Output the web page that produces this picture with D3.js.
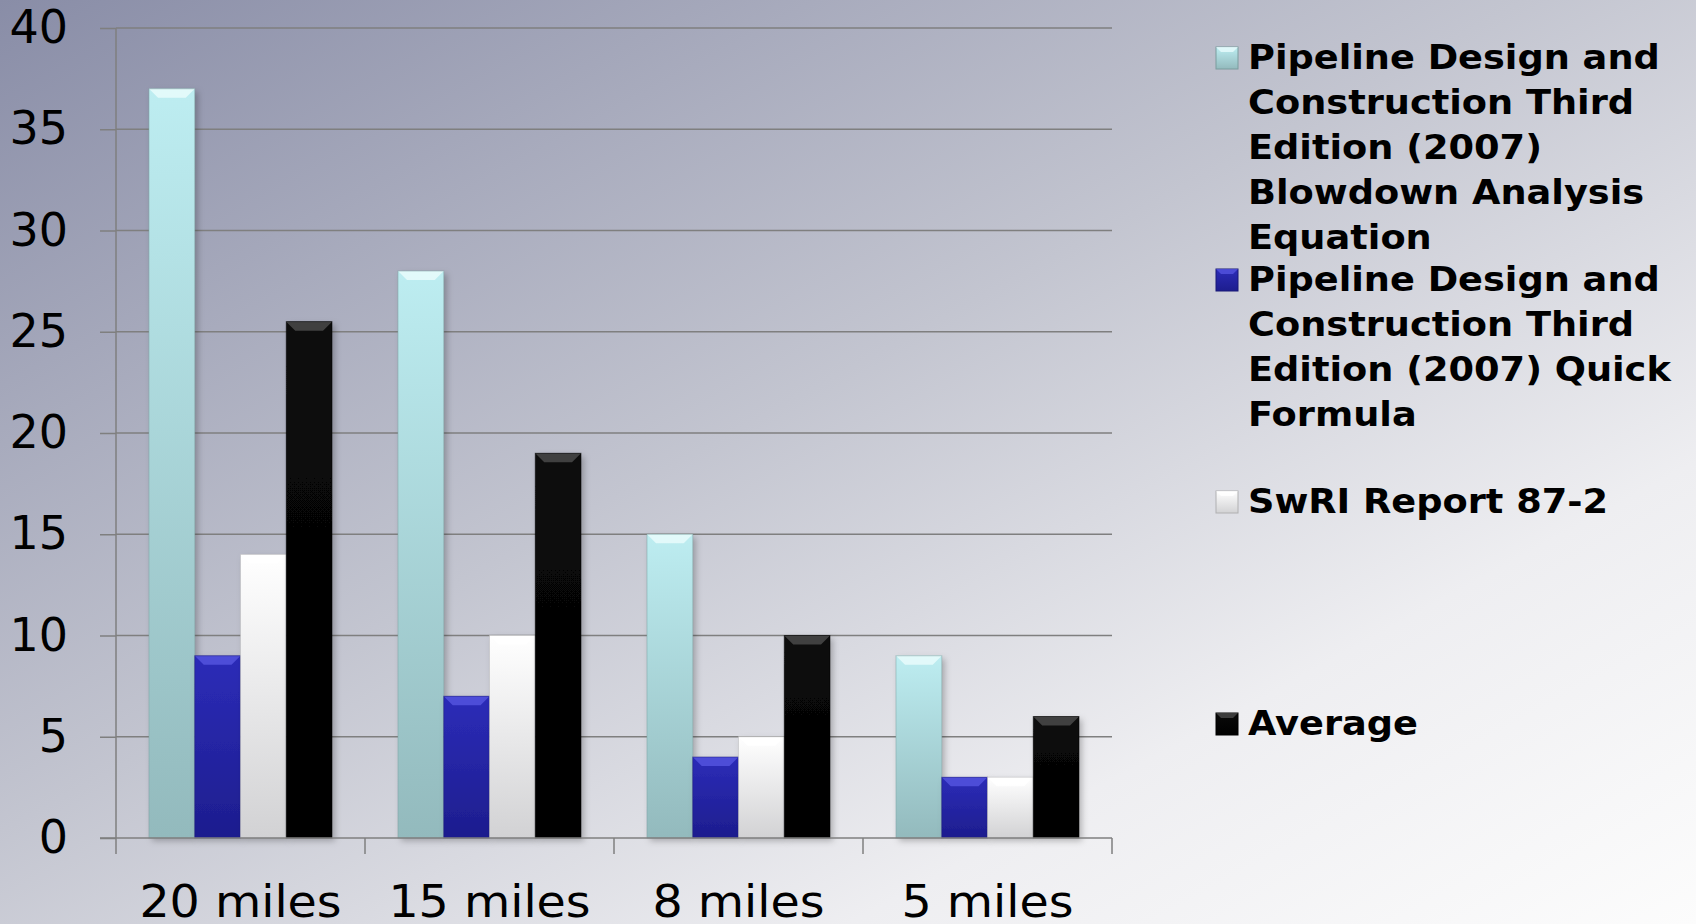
<!DOCTYPE html>
<html>
<head>
<meta charset="utf-8">
<script src="https://cdn.jsdelivr.net/npm/d3@7"></script>
<style>
  html, body { margin: 0; padding: 0; }
  body { width: 1696px; height: 924px; overflow: hidden; }
  svg { display: block; }
</style>
</head>
<body>
<div id="chart"></div>
<script>
// chart data
const categories = ['20 miles', '15 miles', '8 miles', '5 miles'];
const seriesNames = [
  'Pipeline Design and Construction Third Edition (2007) Blowdown Analysis Equation',
  'Pipeline Design and Construction Third Edition (2007) Quick Formula',
  'SwRI Report 87-2',
  'Average'
];
const blowdownEq = [37, 28, 15, 9];
const quickFormula = [9, 7, 4, 3];
const swriReport = [14, 10, 5, 3];
const average = [25.5, 19, 10, 6];
const yTicks = [0, 5, 10, 15, 20, 25, 30, 35, 40];

const seriesValues = [blowdownEq, quickFormula, swriReport, average];
// top colour, bottom colour, bevel highlight
const seriesColors = [
  ['#bdedf1', '#93babd', '#e9fbfc'],
  ['#2c2cb8', '#1d1d8e', '#5454de'],
  ['#ffffff', '#d2d2d4', '#ffffff'],
  ['#0a0a0a', '#000000', '#4a4a4a']
];

const W = 1696, H = 924;
const margin = { top: 28, right: 584, bottom: 86, left: 116 };
const width = W - margin.left - margin.right;
const height = H - margin.top - margin.bottom;
const stretch = 1.08; // the original text is a little wider than DejaVu

const svg = d3.select('#chart')
  .append('svg')
  .attr('width', W)
  .attr('height', H);

const defs = svg.append('defs');

// background gradient
const bg = defs.append('linearGradient')
  .attr('id', 'bg')
  .attr('x1', '0%').attr('y1', '0%')
  .attr('x2', '100%').attr('y2', '100%');
bg.append('stop').attr('offset', '0%').attr('stop-color', '#898da7');
bg.append('stop').attr('offset', '45%').attr('stop-color', '#c3c5d0');
bg.append('stop').attr('offset', '75%').attr('stop-color', '#eeeef1');
bg.append('stop').attr('offset', '100%').attr('stop-color', '#fcfcfc');

svg.append('rect')
  .attr('width', W)
  .attr('height', H)
  .attr('fill', 'url(#bg)');

seriesColors.forEach((c, i) => {
  const g = defs.append('linearGradient')
    .attr('id', 'bar' + i)
    .attr('x1', 0).attr('y1', 0)
    .attr('x2', 0).attr('y2', 1);
  g.append('stop').attr('offset', '0%').attr('stop-color', c[0]);
  g.append('stop').attr('offset', '100%').attr('stop-color', c[1]);
});

const shadow = defs.append('filter')
  .attr('id', 'shadow')
  .attr('x', '-20%').attr('y', '-10%')
  .attr('width', '150%').attr('height', '130%');
shadow.append('feDropShadow')
  .attr('dx', 3).attr('dy', 3)
  .attr('stdDeviation', 3)
  .attr('flood-color', '#000')
  .attr('flood-opacity', 0.25);

const plot = svg.append('g')
  .attr('transform', `translate(${margin.left},${margin.top})`);

const x0 = d3.scaleBand()
  .domain(categories)
  .range([0, width])
  .paddingInner(0.265)
  .paddingOuter(0.1325);
const x1 = d3.scaleBand()
  .domain(d3.range(seriesNames.length))
  .range([0, x0.bandwidth()]);
const y = d3.scaleLinear()
  .domain([0, 40])
  .range([height, 0]);

// gridlines + y axis
const yAxis = plot.append('g')
  .call(d3.axisLeft(y).tickValues(yTicks).tickSize(16).tickPadding(32));
yAxis.select('.domain').attr('stroke', '#7f7f7f').attr('stroke-width', 1.5)
  .attr('d', `M0,0V${height}`);
yAxis.selectAll('.tick line').attr('stroke', '#7f7f7f').attr('stroke-width', 1.5);
yAxis.selectAll('.tick text')
  .attr('fill', '#000')
  .style('font-family', '"DejaVu Sans", Verdana, sans-serif')
  .style('font-size', '46px');

plot.append('g')
  .selectAll('line')
  .data(yTicks.filter(t => t > 0))
  .enter()
  .append('line')
  .attr('x1', 0)
  .attr('x2', width)
  .attr('y1', d => y(d))
  .attr('y2', d => y(d))
  .attr('stroke', '#7f7f7f')
  .attr('stroke-width', 1.5);

// bars
const groups = plot.append('g')
  .selectAll('g')
  .data(categories)
  .enter()
  .append('g')
  .attr('transform', d => `translate(${x0(d)},0)`);

const bars = groups.selectAll('g.bar')
  .data((d, ci) => seriesValues.map((vals, si) => ({ si, value: vals[ci] })))
  .enter()
  .append('g')
  .attr('class', 'bar');

bars.append('rect')
  .attr('x', d => x1(d.si))
  .attr('y', d => y(d.value))
  .attr('width', x1.bandwidth())
  .attr('height', d => height - y(d.value))
  .attr('fill', d => `url(#bar${d.si})`)
  .attr('filter', 'url(#shadow)');

// bevel cap on top of each bar
const bev = 9;
bars.append('path')
  .attr('d', d => {
    const xl = x1(d.si), xr = xl + x1.bandwidth(), yt = y(d.value);
    return `M${xl},${yt}L${xr},${yt}L${xr - bev},${yt + bev}L${xl + bev},${yt + bev}Z`;
  })
  .attr('fill', d => seriesColors[d.si][2])
  .attr('opacity', 0.85);

// side edges
bars.append('rect')
  .attr('x', d => x1(d.si))
  .attr('y', d => y(d.value))
  .attr('width', x1.bandwidth())
  .attr('height', d => height - y(d.value))
  .attr('fill', 'none')
  .attr('stroke', d => d.si === 3 ? '#000' : d3.color(seriesColors[d.si][1]).darker(0.4))
  .attr('stroke-opacity', 0.5)
  .attr('stroke-width', 1);

// x axis
const xAxis = plot.append('g')
  .attr('transform', `translate(0,${height})`)
  .call(d3.axisBottom(x0).tickSize(0).tickPadding(48));
xAxis.select('.domain').remove();
xAxis.selectAll('.tick text')
  .attr('fill', '#000')
  .attr('transform', `scale(${stretch},1)`)
  .style('font-family', '"DejaVu Sans", Verdana, sans-serif')
  .style('font-size', '44px');

plot.append('line')
  .attr('x1', -16).attr('x2', width)
  .attr('y1', height).attr('y2', height)
  .attr('stroke', '#7f7f7f').attr('stroke-width', 1.5);

plot.append('g')
  .selectAll('line')
  .data(d3.range(categories.length + 1))
  .enter()
  .append('line')
  .attr('x1', i => i * x0.step())
  .attr('x2', i => i * x0.step())
  .attr('y1', height)
  .attr('y2', height + 16)
  .attr('stroke', '#7f7f7f')
  .attr('stroke-width', 1.5);

// legend
const legendX = 1216, legendTop = 69, legendStep = 222, lineH = 45, wrapW = 440 / stretch;
const legend = svg.append('g')
  .selectAll('g')
  .data(seriesNames)
  .enter()
  .append('g')
  .attr('transform', (d, i) => `translate(${legendX},${legendTop + i * legendStep})`);

legend.append('rect')
  .attr('x', 0)
  .attr('y', -22)
  .attr('width', 22)
  .attr('height', 22)
  .attr('fill', (d, i) => `url(#bar${i})`)
  .attr('stroke', (d, i) => d3.color(seriesColors[i][1]).darker(0.5))
  .attr('stroke-width', 1);

legend.append('path')
  .attr('d', 'M0,-22L22,-22L17,-17L5,-17Z')
  .attr('fill', (d, i) => seriesColors[i][2])
  .attr('opacity', 0.8);

legend.append('g')
  .attr('transform', `translate(32,0) scale(${stretch},1)`)
  .append('text')
  .attr('x', 0)
  .attr('y', 0)
  .style('font-family', '"DejaVu Sans", Verdana, sans-serif')
  .style('font-weight', 'bold')
  .style('font-size', '34px')
  .attr('fill', '#000')
  .each(function (d) {
    const text = d3.select(this);
    const words = d.split(' ');
    let line = [];
    let tspan = text.append('tspan').attr('x', 0).attr('dy', 0);
    words.forEach(w => {
      line.push(w);
      tspan.text(line.join(' '));
      if (tspan.node().getComputedTextLength() > wrapW && line.length > 1) {
        line.pop();
        tspan.text(line.join(' '));
        line = [w];
        tspan = text.append('tspan').attr('x', 0).attr('dy', lineH).text(w);
      }
    });
  });
</script>
</body>
</html>
